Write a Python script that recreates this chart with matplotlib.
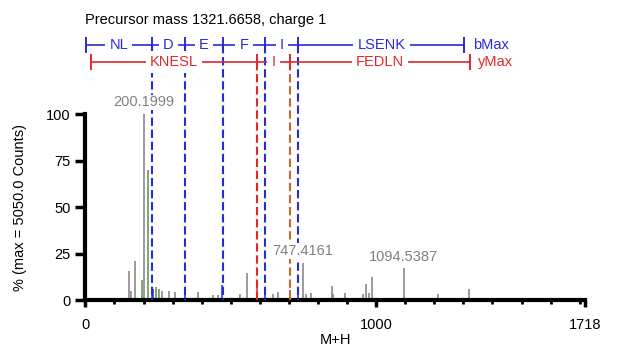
import matplotlib
matplotlib.use("Agg")
import matplotlib.pyplot as plt
import matplotlib.transforms as mtransforms

plt.rcParams['font.family'] = ['Liberation Sans', 'DejaVu Sans']

# spectrum peaks (m/z, % of max)
grey_mz = [151, 158, 171, 200.1999, 262, 286, 309, 388, 440, 455, 533, 557,
           645, 662, 747.4161, 760, 775, 847, 852, 893, 956, 966, 975, 987,
           1094.5387, 1211, 1320]
grey_int = [15.6, 5, 21, 100, 5, 5, 4.5, 4.5, 2.5, 2.5, 3, 14.6,
            3.5, 4.5, 20, 3, 3.6, 7.7, 3, 4, 3, 8.4, 4, 12.5,
            17, 3, 5.9]
green_mz = [196, 216, 244, 252]
green_int = [11, 70, 7, 6]
blue_mz = [228, 234, 344, 471, 617, 731]
blue_int = [7, 6, 3.5, 8, 3.5, 7]
red_mz = [590, 704]
red_int = [7, 5.5]

# fragment ladders
b_bounds = [1.0, 228.13, 343.16, 472.20, 619.27, 732.35, 1303.66]
b_labels = ['NL', 'D', 'E', 'F', 'I', 'LSENK']
y_bounds = [19.0, 590.31, 703.40, 1321.67]
y_labels = ['KNESL', 'I', 'FEDLN']

labeled = [(200.1999, 100, '200.1999'), (747.4161, 20, '747.4161'),
           (1094.5387, 17, '1094.5387')]

BLUE = '#2b2bd6'
RED = '#e3262b'
ORANGE = '#d0652c'
GREY = '#808080'
GREEN = '#5f8a52'
FS = 10.5

fig = plt.figure(figsize=(6.19, 3.47), dpi=100)
ax = fig.add_axes([0.138, 0.1354, 0.807, 0.536])

ax.vlines(grey_mz, 0, grey_int, color=GREY, lw=1.1)
ax.vlines(green_mz, 0, green_int, color=GREEN, lw=1.1)
ax.vlines(blue_mz, 0, blue_int, color=BLUE, lw=1.1)
ax.vlines(red_mz, 0, red_int, color=RED, lw=1.1)

for mz, h, txt in labeled:
    ax.text(mz, h + 2.5, txt, color=GREY, fontsize=FS, ha='center', va='bottom',
            zorder=6, clip_on=False,
            bbox=dict(facecolor='white', edgecolor='none', pad=0.5))

ax.set_xlim(0, 1718)
ax.set_ylim(0, 100)

trans = mtransforms.blended_transform_factory(ax.transData, ax.transAxes)
yb = 1.371
yy = 1.28

# dashed lines
for i, m in enumerate(b_bounds[1:-1]):
    ax.plot([m, m], [yb, 0], transform=trans, color=BLUE, lw=1.5,
            ls=(0, (4, 1.8)), clip_on=False, zorder=3)
for i, m in enumerate(y_bounds[1:-1]):
    c = RED if i == 0 else ORANGE
    ax.plot([m, m], [yy, 0], transform=trans, color=c, lw=1.5,
            ls=(0, (4, 1.8)), clip_on=False, zorder=3)

# ladder rows
ax.plot([b_bounds[0], b_bounds[-1]], [yb, yb], transform=trans, color=BLUE,
        lw=1.2, clip_on=False, zorder=4)
ax.plot(b_bounds, [yb] * len(b_bounds), transform=trans, color=BLUE, lw=0,
        marker='|', ms=11, mew=1.4, clip_on=False, zorder=4)
for i, lab in enumerate(b_labels):
    mid = (b_bounds[i] + b_bounds[i + 1]) / 2
    ax.text(mid, yb, lab, transform=trans, color=BLUE, fontsize=FS,
            ha='center', va='center', zorder=5,
            bbox=dict(facecolor='white', edgecolor='none', pad=3))
ax.text(b_bounds[-1] + 28, yb, 'bMax', transform=trans, color=BLUE,
        fontsize=FS, ha='left', va='center')

ax.plot([y_bounds[0], y_bounds[-1]], [yy, yy], transform=trans, color=RED,
        lw=1.2, clip_on=False, zorder=4)
ax.plot(y_bounds, [yy] * len(y_bounds), transform=trans, color=RED, lw=0,
        marker='|', ms=11, mew=1.4, clip_on=False, zorder=4)
for i, lab in enumerate(y_labels):
    mid = (y_bounds[i] + y_bounds[i + 1]) / 2
    ax.text(mid, yy, lab, transform=trans, color=RED, fontsize=FS,
            ha='center', va='center', zorder=5,
            bbox=dict(facecolor='white', edgecolor='none', pad=3))
ax.text(y_bounds[-1] + 28, yy, 'yMax', transform=trans, color=RED,
        fontsize=FS, ha='left', va='center')

ax.text(0, 1.505, 'Precursor mass 1321.6658, charge 1', transform=ax.transAxes,
        fontsize=FS, ha='left', va='center')

# axes styling
for s in ['top', 'right']:
    ax.spines[s].set_visible(False)
for s in ['left', 'bottom']:
    ax.spines[s].set_linewidth(3)
ax.set_yticks([0, 25, 50, 75, 100])
ax.set_xticks([0, 1000, 1718])
ax.set_xticks(range(100, 1718, 100), minor=True)
ax.tick_params(axis='y', length=7, width=2.5, labelsize=FS)
ax.tick_params(axis='x', which='major', length=5, width=2.5, labelsize=FS, pad=8)
ax.tick_params(axis='x', which='minor', length=3, width=2)
ax.set_ylabel('% (max = 5050.0 Counts)', fontsize=FS, labelpad=14)
ax.set_xlabel('M+H', fontsize=FS, labelpad=1)

fig.savefig('out.png', dpi=100)
